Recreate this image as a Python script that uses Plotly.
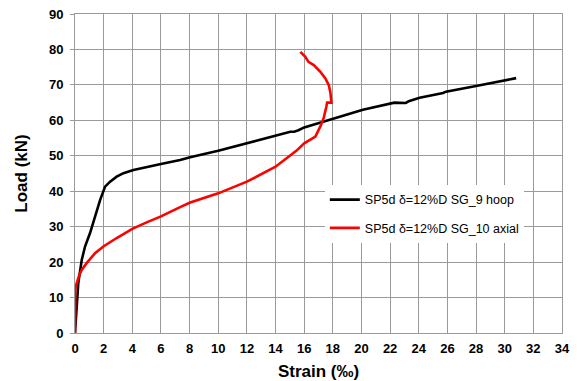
import plotly.graph_objects as go

# Hoop strain gauge (SG_9)
strain_hoop = [0, 0.12, 0.23, 0.47, 0.7, 1.05, 1.4, 1.75, 2.1, 2.45, 2.91, 3.38, 4.08, 5.0,
               6.0, 7.34, 8.04, 10.0, 12.0, 14.0, 15.03, 15.3, 15.6, 16.0, 17.36, 18.5, 20.1,
               22.3, 23.1, 23.3, 23.6, 24.06, 25.7, 25.9, 28.0, 30.8]
load_hoop = [0, 9.4, 14.1, 20.6, 24.4, 28.2, 32.8, 37.5, 41.3, 42.7, 44.1, 45.1, 46.0, 46.9,
             47.7, 48.8, 49.6, 51.4, 53.5, 55.6, 56.8, 56.8, 57.2, 58.0, 59.7, 61.0, 63.0,
             65.0, 64.9, 65.4, 65.8, 66.4, 67.7, 68.1, 69.7, 71.9]

# Axial strain gauge (SG_10)
strain_axial = [0, 0.02, 0.12, 0.3, 0.47, 0.81, 1.4, 1.98, 2.91, 4.0, 5.0, 6.0, 7.34, 8.04,
                10.0, 12.0, 14.0, 15.45, 16.0, 16.78, 17.13, 17.36, 17.55, 17.6, 17.9, 17.88,
                17.83, 17.72, 17.48, 17.13, 16.67, 16.3, 16.08, 15.73]
load_axial = [0, 12.2, 14.1, 16.4, 17.8, 19.7, 22.5, 24.4, 26.8, 29.4, 31.2, 32.9, 35.5, 36.8,
              39.4, 42.7, 46.9, 51.4, 53.5, 55.4, 58.3, 60.6, 63.9, 65.0, 65.0, 67.0,
              67.8, 69.9, 71.8, 73.7, 75.6, 76.5, 77.9, 79.3]

x_ticks = list(range(0, 35, 2))
y_ticks = list(range(0, 91, 10))

series_names = ["SP5d δ=12%D SG_9 hoop", "SP5d δ=12%D SG_10 axial"]

FONT = "Liberation Sans, Arial, sans-serif"
GRID = "#9a9a9a"

fig = go.Figure()
fig.add_trace(go.Scatter(x=strain_hoop, y=load_hoop, mode="lines", name=series_names[0],
                         line=dict(color="black", width=2.6), legendgroup="a"))
fig.add_trace(go.Scatter(x=strain_axial, y=load_axial, mode="lines", name=series_names[1],
                         line=dict(color="#ff0000", width=2.6), legendgroup="b"))

fig.update_layout(
    width=577, height=381,
    margin=dict(l=75, r=14.5, t=14, b=47.5),
    plot_bgcolor="white", paper_bgcolor="white",
    font=dict(family=FONT, color="black"),
    legend=dict(x=0.513, y=0.464, xanchor="left", yanchor="top",
                bgcolor="white", borderwidth=0, tracegroupgap=9,
                font=dict(size=12.5, family=FONT, color="black")),
    xaxis=dict(range=[0, 34], tickvals=x_ticks, ticktext=[str(v) for v in x_ticks],
               showgrid=True, gridcolor=GRID, gridwidth=1, automargin=False,
               showline=True, linecolor=GRID, linewidth=1, mirror=True,
               ticks="", zeroline=False, ticklabelstandoff=3, ticklabeloverflow="allow",
               tickfont=dict(size=13, family=FONT, color="black", weight="bold"),
               title=dict(text="<b>Strain (‰)</b>", font=dict(size=17, family=FONT), standoff=10)),
    yaxis=dict(range=[0, 90], tickvals=y_ticks, ticktext=[str(v) for v in y_ticks],
               showgrid=True, gridcolor=GRID, gridwidth=1, automargin=False,
               showline=True, linecolor=GRID, linewidth=1, mirror=True,
               ticks="outside", ticklen=4, tickcolor=GRID, zeroline=False, ticklabelstandoff=4,
               ticklabeloverflow="allow",
               tickfont=dict(size=13, family=FONT, color="black", weight="bold"),
               title=dict(text="<b>Load (kN)</b>", font=dict(size=17, family=FONT), standoff=16)),
)

# remove the default 8px page margin so the figure fills the window exactly
fig.write_html("out.html", config={"displayModeBar": False},
               post_script="document.body.style.margin='0';")
